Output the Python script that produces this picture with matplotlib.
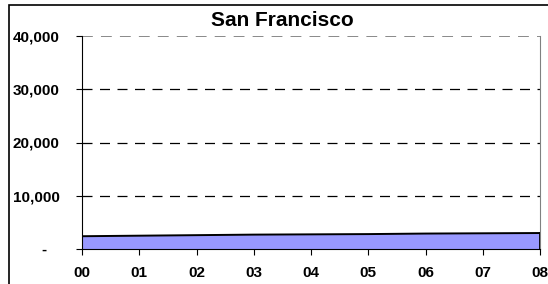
import numpy as np
from matplotlib import pyplot as plt
from matplotlib.patches import Rectangle

plt.rcParams['font.family'] = ['Liberation Sans', 'DejaVu Sans']

years = ['00', '01', '02', '03', '04', '05', '06', '07', '08']
values = [2400, 2500, 2600, 2700, 2750, 2800, 2900, 2950, 3000]
yticks = [0, 10000, 20000, 30000, 40000]
ytick_labels = ['-   ', '10,000', '20,000', '30,000', '40,000']

fig = plt.figure(figsize=(5.48, 2.84), dpi=100)
ax = fig.add_axes([82/548, 1 - 249/284, (540 - 82)/548, (249 - 36)/284])

x = np.arange(len(years))
ax.fill_between(x, 0, values, facecolor='#9999ff', edgecolor='none', zorder=2)
ax.plot(x, values, color='black', lw=1.4, zorder=3)
ax.plot([x[-1], x[-1]], [0, values[-1]], color='black', lw=1.3, zorder=3)

ax.set_xlim(0, len(years) - 1)
ax.set_ylim(0, 40000)
ax.set_xticks(x)
ax.set_xticklabels(years, fontsize=11, fontweight='bold')
ax.set_yticks(yticks)
ax.set_yticklabels(ytick_labels, fontsize=11, fontweight='bold')

for v in yticks[1:4]:
    ax.axhline(v, color='black', lw=0.9, ls=(0, (8, 6)), zorder=1)
ax.axhline(40000, color='#808080', lw=1.3, ls=(0, (6, 4.5)), zorder=1)

ax.spines['top'].set_visible(False)
ax.spines['right'].set_color('#808080')
ax.spines['left'].set_color('black')
ax.spines['bottom'].set_color('black')
ax.spines['bottom'].set_zorder(4)
ax.tick_params(axis='x', direction='out', length=4, width=0.8, pad=8)
ax.tick_params(axis='y', direction='out', length=4, width=0.8, pad=12)

fig.text(282/548, 1 - 21/284, 'San Francisco', ha='center', va='center',
         fontsize=15, fontweight='bold')

fig.patches.append(Rectangle((9/548, -0.1), 1.1, 1 - 5/284 + 0.1,
                             transform=fig.transFigure, fill=False,
                             edgecolor='black', lw=1.2))

fig.savefig('out.png', dpi=100)
